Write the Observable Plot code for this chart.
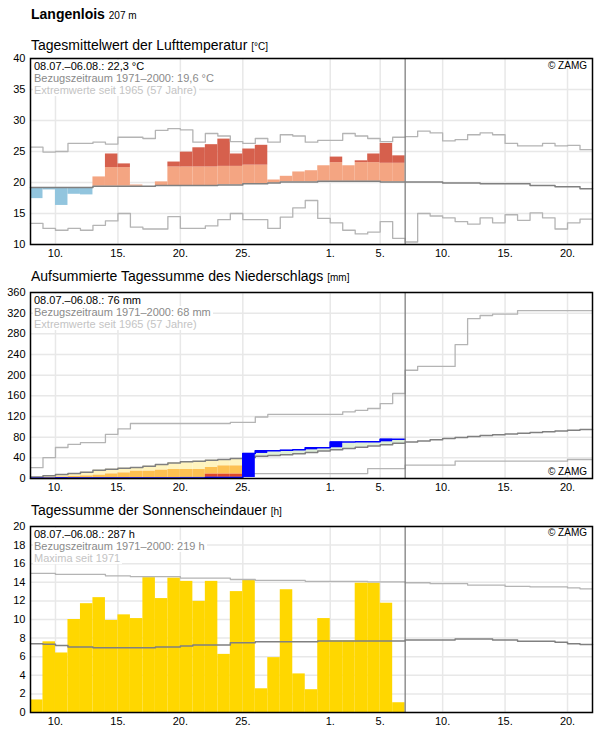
<!DOCTYPE html>
<html>
<head>
<meta charset="utf-8">
<script src="https://cdn.jsdelivr.net/npm/d3@7"></script>
<script src="https://cdn.jsdelivr.net/npm/@observablehq/plot@0.6"></script>
<style>
  body { margin: 0; background: #fff; font-family: "Liberation Sans", Arial, sans-serif; }
  #page { position: relative; width: 596px; height: 729px; overflow: hidden; }
  .abs { position: absolute; }
  .station { left: 31px; top: 5px; font-size: 14px; font-weight: bold; line-height: 18px; white-space: nowrap; }
  .station small { font-size: 10px; font-weight: normal; }
  .ptitle { left: 31px; font-size: 14px; line-height: 18px; white-space: nowrap; }
  .ptitle small { font-size: 10px; }
  .info { left: 33px; font-size: 11px; line-height: 12px; }
  .info div { background: #fff; width: fit-content; padding: 0 2px 0 1px; white-space: nowrap; }
  .l1 { color: #000; }
  .l2 { color: #8a8a8a; }
  .l3 { color: #c4c4c4; }
  .copy { font-size: 10px; line-height: 12px; right: 9px; color: #000; }
  svg { display: block; }
</style>
</head>
<body>
<div id="page"></div>
<script>
// Langenlois, 08.07.–22.08.2021 (observations up to 06.08.)
const firstDay = new Date(Date.UTC(2021, 6, 8));
const dayCount = 45;
const todayLine = new Date(Date.UTC(2021, 7, 7));
const xTicks = [
  new Date(Date.UTC(2021, 6, 10)), new Date(Date.UTC(2021, 6, 15)),
  new Date(Date.UTC(2021, 6, 20)), new Date(Date.UTC(2021, 6, 25)),
  new Date(Date.UTC(2021, 7, 1)), new Date(Date.UTC(2021, 7, 5)),
  new Date(Date.UTC(2021, 7, 10)), new Date(Date.UTC(2021, 7, 15)),
  new Date(Date.UTC(2021, 7, 20))
];

// Daily mean air temperature [°C]
const tempTicks = [10, 15, 20, 25, 30, 35, 40];
const tempObserved = [17.4, 18.8, 16.3, 18.1, 18.0, 20.9, 24.6, 23.0, 19.6, 19.4,
  20.1, 23.3, 24.9, 25.6, 26.1, 27.0, 24.6, 25.4, 26.0, 20.4,
  21.0, 21.7, 21.9, 22.7, 24.1, 22.7, 23.5, 24.6, 26.3, 24.3];
const tempNormal = [19.2, 19.2, 19.2, 19.2, 19.2, 19.4, 19.4, 19.4, 19.4, 19.4,
  19.5, 19.5, 19.5, 19.5, 19.5, 19.6, 19.6, 19.8, 19.8, 19.9,
  20.1, 20.1, 20.1, 20.2, 20.2, 20.2, 20.2, 20.2, 20.1, 20.1,
  20.1, 20.1, 20.1, 19.9, 19.9, 19.9, 19.8, 19.8, 19.8, 19.8,
  19.5, 19.5, 19.3, 19.3, 19.0];
const tempMax = [25.7, 24.9, 25.0, 26.3, 26.3, 26.5, 26.2, 27.3, 27.3, 27.1,
  28.4, 28.7, 28.5, 26.5, 27.9, 27.5, 26.6, 26.3, 27.1, 26.5,
  27.7, 27.5, 26.5, 26.8, 26.8, 27.9, 27.5, 27.1, 26.6, 27.3,
  27.4, 28.3, 28.0, 26.7, 26.9, 27.7, 28.0, 27.7, 26.3, 25.9,
  25.9, 26.3, 25.9, 26.0, 25.3];
const tempMin = [13.4, 12.6, 12.3, 12.6, 12.3, 13.1, 13.8, 15.0, 12.8, 12.5,
  12.5, 14.5, 12.6, 12.6, 13.0, 14.0, 15.0, 14.0, 14.0, 12.6,
  14.4, 15.9, 17.1, 14.2, 13.5, 12.3, 11.7, 12.0, 13.7, 11.0,
  10.4, 15.0, 14.6, 14.3, 13.7, 13.3, 14.3, 13.5, 14.8, 13.9,
  15.1, 14.3, 12.5, 13.5, 14.1];
const tempWarmStep = 3; // anomaly above which the bar turns dark red

// Accumulated precipitation [mm]
const precTicks = [0, 40, 80, 120, 160, 200, 240, 280, 320, 360];
const precObserved = [0.3, 0.3, 1.2, 1.2, 1.2, 1.2, 1.2, 1.2, 1.2, 1.2,
  1.2, 1.2, 1.2, 1.2, 2.0, 2.0, 2.0, 48.5, 53.5, 53.5,
  54.5, 55.5, 59.5, 59.5, 70.5, 70.5, 71.0, 71.0, 76.0, 76.0];
const precNormal = [3.0, 5.5, 7.7, 9.7, 12.3, 16.1, 18.0, 19.9, 21.2, 23.8,
  27.0, 30.2, 32.2, 33.5, 35.4, 36.7, 38.7, 40.5, 43.0, 44.5,
  46.0, 48.0, 50.5, 53.0, 55.5, 58.0, 60.5, 63.0, 65.5, 68.0,
  70.5, 72.5, 75.0, 77.5, 79.5, 81.5, 83.0, 84.5, 86.0, 87.5,
  89.0, 90.5, 92.0, 93.5, 95.0];
const precDry = [1.0, 2.0, 3.0, 4.0, 5.0, 6.4, 8.9, 10.8, 14.1, 14.1,
  16.1, 17.4, 17.4, 17.4, 21.3, 24.4, 24.4, 26.0, 28.0, 29.0,
  30.0, 31.0, 32.0, 33.0, 34.0, 35.0, 36.0, 37.0, 38.0, 39.0];
const precVeryDry = [0, 0, 0, 0, 0, 0, 0, 0, 0, 0,
  0, 0, 0, 0, 8.4, 8.4, 8.4, 9.0, 9.0, 9.0,
  9.0, 9.0, 9.0, 9.0, 9.0, 9.0, 9.0, 9.0, 9.0, 9.0];
const precMax = [21.0, 40.5, 60.0, 66.0, 69.5, 69.5, 85.5, 96.0, 106.5, 106.5,
  106.5, 106.5, 106.5, 106.5, 106.5, 106.5, 108.5, 108.5, 119.0, 124.0,
  124.0, 124.0, 124.0, 124.0, 124.0, 129.0, 132.0, 135.5, 145.0, 164.5,
  209.5, 217.0, 217.0, 217.0, 259.0, 309.5, 315.5, 318.0, 318.0, 325.0,
  325.0, 325.0, 325.0, 325.0, 325.0];
const precMin = [0, 0, 0, 0, 0, 0, 0, 0, 0, 0,
  0, 0, 2.0, 2.0, 2.0, 2.0, 2.0, 9.6, 9.6, 9.6,
  9.6, 9.6, 9.6, 9.6, 9.6, 9.6, 9.6, 19.3, 19.3, 19.3,
  25.7, 25.7, 25.7, 25.7, 33.5, 33.5, 33.5, 33.5, 33.5, 33.5,
  33.5, 33.5, 33.5, 36.8, 36.8];

// Daily sunshine duration [h]
const sunTicks = [0, 2, 4, 6, 8, 10, 12, 14, 16, 18, 20];
const sunObserved = [1.35, 7.6, 6.4, 10.0, 11.7, 12.35, 9.9, 10.5, 10.1, 14.5,
  12.25, 14.45, 14.1, 11.95, 14.1, 6.25, 13.0, 14.3, 2.55, 5.9,
  13.2, 4.15, 2.45, 10.1, 7.7, 7.7, 13.9, 13.9, 11.75, 1.05];
const sunNormal = [7.4, 7.35, 7.2, 7.05, 7.05, 6.95, 6.95, 6.95, 6.95, 6.95,
  7.05, 7.05, 7.15, 7.25, 7.25, 7.25, 7.5, 7.5, 7.6, 7.6,
  7.6, 7.6, 7.6, 7.7, 7.7, 7.7, 7.7, 7.7, 7.7, 7.7,
  7.8, 7.8, 7.8, 7.8, 7.9, 7.9, 7.9, 7.8, 7.8, 7.65,
  7.65, 7.65, 7.55, 7.4, 7.3];
const sunMax = [14.95, 14.95, 14.85, 14.85, 14.85, 14.85, 14.7, 14.7, 14.6, 14.6,
  14.6, 14.6, 14.45, 14.45, 14.45, 14.45, 14.3, 14.3, 14.2, 14.2,
  14.2, 14.2, 14.1, 14.1, 14.1, 14.1, 14.1, 14.05, 14.05, 14.05,
  13.95, 13.95, 13.85, 13.85, 13.85, 13.7, 13.7, 13.7, 13.57, 13.57,
  13.5, 13.5, 13.5, 13.4, 13.3];

// ---- helpers -------------------------------------------------------------
const day = i => d3.utcDay.offset(firstDay, i);
const stepPoints = values => values.flatMap((v, i) => [{x: day(i), y: v}, {x: day(i + 1), y: v}]);

const grid = "#e8e8e8";
const extremeColor = "#b4b4b4";
const normalColor = "#808080";

function basePlot(yTicks, yDomain, height, marks) {
  return Plot.plot({
    width: 596,
    height,
    marginLeft: 30,
    marginRight: 4,
    marginTop: 8,
    marginBottom: height - 8 - 186,
    style: {fontFamily: "Liberation Sans, Arial, sans-serif", fontSize: "11px", color: "#000", background: "#fff"},
    x: {type: "utc", domain: [day(0), day(dayCount)], ticks: xTicks, tickFormat: d3.utcFormat("%-d."), tickSize: 0, tickPadding: 5, label: null},
    y: {domain: yDomain, ticks: yTicks, tickSize: 0, tickPadding: 5, label: null},
    marks: [
      Plot.gridX(xTicks, {stroke: grid, strokeOpacity: 1, strokeWidth: 1.5}),
      Plot.gridY(yTicks, {stroke: grid, strokeOpacity: 1, strokeWidth: 1.5}),
      ...marks,
      Plot.ruleX([todayLine], {stroke: normalColor, strokeWidth: 1.3}),
      Plot.frame({stroke: "#000", strokeWidth: 1.5})
    ]
  });
}

// ---- temperature ---------------------------------------------------------
const tempBars = [];
tempObserved.forEach((v, i) => {
  const n = tempNormal[i];
  const warm = n + tempWarmStep;
  if (v < n) tempBars.push({x1: day(i), x2: day(i + 1), y1: n, y2: v, fill: "#92c5de"});
  if (v > n) tempBars.push({x1: day(i), x2: day(i + 1), y1: n, y2: Math.min(v, warm), fill: "#f4a582"});
  if (v > warm) tempBars.push({x1: day(i), x2: day(i + 1), y1: warm, y2: v, fill: "#d6604d"});
});
const tempPlot = basePlot(tempTicks, [10, 40], 214, [
  Plot.rectY(tempBars, {x1: "x1", x2: "x2", y1: "y1", y2: "y2", fill: "fill"}),
  Plot.line(stepPoints(tempMax), {x: "x", y: "y", stroke: extremeColor, strokeWidth: 1.3}),
  Plot.line(stepPoints(tempMin), {x: "x", y: "y", stroke: extremeColor, strokeWidth: 1.3}),
  Plot.line(stepPoints(tempNormal), {x: "x", y: "y", stroke: normalColor, strokeWidth: 1.5})
]);

// ---- precipitation -------------------------------------------------------
const precFill = [];
const precRain = [];
precObserved.forEach((v, i) => {
  const n = precNormal[i];
  const x1 = day(i), x2 = day(i + 1);
  if (v > n) precFill.push({x1, x2, y1: n, y2: v, fill: "#dff0d8"});
  if (v < n) {
    const dry = Math.min(precDry[i], n), veryDry = Math.min(precVeryDry[i], n);
    precFill.push({x1, x2, y1: Math.max(v, dry), y2: n, fill: "#fff4bf"});
    if (v < dry) precFill.push({x1, x2, y1: Math.max(v, veryDry), y2: dry, fill: "#fdc152"});
    if (v < veryDry) precFill.push({x1, x2, y1: v, y2: veryDry, fill: "#e0482a"});
  }
  const prev = i === 0 ? 0 : precObserved[i - 1];
  if (v - prev > 0.5) precRain.push({x1, x2, y1: prev, y2: v});
});
const precPlot = basePlot(precTicks, [0, 360], 214, [
  Plot.rectY(precFill, {x1: "x1", x2: "x2", y1: "y1", y2: "y2", fill: "fill"}),
  Plot.line(stepPoints(precMax), {x: "x", y: "y", stroke: extremeColor, strokeWidth: 1.3}),
  Plot.line(stepPoints(precMin), {x: "x", y: "y", stroke: extremeColor, strokeWidth: 1.3}),
  Plot.line(stepPoints(precNormal), {x: "x", y: "y", stroke: normalColor, strokeWidth: 1.5}),
  Plot.rectY(precRain, {x1: "x1", x2: "x2", y1: "y1", y2: "y2", fill: "#0000ff"}),
  Plot.line(stepPoints(precObserved), {x: "x", y: "y", stroke: "#0000ff", strokeWidth: 1.5})
]);

// ---- sunshine ------------------------------------------------------------
const sunPlot = basePlot(sunTicks, [0, 20], 211, [
  Plot.rectY(sunObserved.map((v, i) => ({x1: day(i), x2: day(i + 1), y: v})),
    {x1: "x1", x2: "x2", y1: 0, y2: "y", fill: "#ffd700"}),
  Plot.line(stepPoints(sunMax), {x: "x", y: "y", stroke: extremeColor, strokeWidth: 1.3}),
  Plot.line(stepPoints(sunNormal), {x: "x", y: "y", stroke: normalColor, strokeWidth: 1.5})
]);

// ---- page layout ---------------------------------------------------------
const page = document.getElementById("page");
function place(node, top) {
  node.style.position = "absolute";
  node.style.left = "0px";
  node.style.top = top + "px";
  page.appendChild(node);
}
function html(cls, top, inner) {
  const d = document.createElement("div");
  d.className = "abs " + cls;
  d.style.top = top + "px";
  d.innerHTML = inner;
  page.appendChild(d);
}

place(tempPlot, 50);
place(precPlot, 284);
place(sunPlot, 518);

html("station", 5, 'Langenlois <small>207 m</small>');
html("ptitle", 36, 'Tagesmittelwert der Lufttemperatur <small>[°C]</small>');
html("ptitle", 267, 'Aufsummierte Tagessumme des Niederschlags <small>[mm]</small>');
html("ptitle", 501, 'Tagessumme der Sonnenscheindauer <small>[h]</small>');

html("info", 59.5, '<div class="l1">08.07.–06.08.: 22,3 °C</div><div class="l2">Bezugszeitraum 1971–2000: 19,6 °C</div><div class="l3">Extremwerte seit 1965 (57 Jahre)</div>');
html("info", 293.5, '<div class="l1">08.07.–06.08.: 76 mm</div><div class="l2">Bezugszeitraum 1971–2000: 68 mm</div><div class="l3">Extremwerte seit 1965 (57 Jahre)</div>');
html("info", 527.5, '<div class="l1">08.07.–06.08.: 287 h</div><div class="l2">Bezugszeitraum 1971–2000: 219 h</div><div class="l3">Maxima seit 1971</div>');

html("copy", 60, '© ZAMG');
html("copy", 466, '© ZAMG');
html("copy", 527, '© ZAMG');
</script>
</body>
</html>
